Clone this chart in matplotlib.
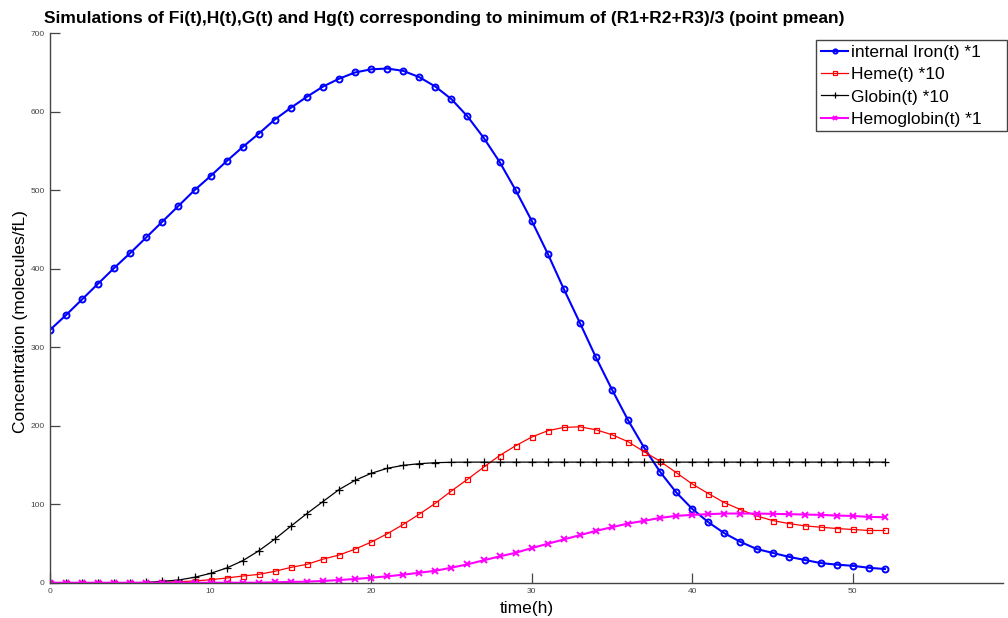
import matplotlib
matplotlib.use("Agg")
import matplotlib.pyplot as plt
from matplotlib.patches import Rectangle
import numpy as np

plt.rcParams['font.family'] = ['Liberation Sans', 'DejaVu Sans']

t = np.arange(0, 53)

iron = [322, 341, 361, 381, 401, 420, 440, 460, 480, 500,
        518, 537, 555, 572, 590, 605, 619, 632, 642, 650,
        654, 655, 652, 644, 632, 616, 594, 567, 536, 500,
        461, 419, 374, 331, 287, 246, 207, 172, 141, 115,
        94, 77, 63, 52, 43, 38, 33, 29, 25, 23,
        21.5, 19, 17.4]

heme = [0, 0, 0, 0, 0, 0, 0, 0.6, 1.2, 2.2,
        3.8, 6, 8.5, 10.6, 14.5, 19.5, 23.4, 30, 35.2, 42.8,
        51.7, 62.3, 74.2, 87.3, 101.2, 116.9, 131.7, 147, 162, 174.5,
        185.5, 193.6, 197.8, 198.6, 194.8, 188.5, 179.6, 166.9, 154.6, 140.2,
        125.7, 113.5, 102, 93.2, 85.1, 79.2, 75.4, 72.4, 70.7, 69,
        67.8, 66.5, 66.5]

globin = [0, 0, 0, 0, 0, 0, 0.3, 1.8, 3.4, 6.9,
          11.9, 18.7, 28, 40.6, 55.5, 72, 88.1, 103.4, 118.6, 130.4,
          139.3, 145.7, 149.5, 151.6, 152.9, 153.4, 153.6, 153.6, 153.6, 153.6,
          153.6, 153.6, 153.6, 153.6, 153.6, 153.6, 153.6, 153.6, 153.6, 153.6,
          153.6, 153.6, 153.6, 153.6, 153.6, 153.6, 153.6, 153.6, 153.6, 153.6,
          153.6, 153.6, 153.6]

hemoglobin = [0, 0, 0, 0, 0, 0, 0, 0, 0, 0,
              0, 0, 0, 0, 0.5, 1, 1.3, 2.2, 3.4, 4.7,
              6.4, 8.1, 10.2, 12.7, 15.2, 19.1, 23.4, 28.5, 33.5, 38.1,
              44.1, 49.6, 55.1, 60.6, 66, 70.7, 75.4, 78.8, 82.6, 85.1,
              86.4, 87.3, 88.1, 88.1, 88.1, 87.7, 87.3, 86.8, 86.4, 85.5,
              85.1, 83.8, 83.4]

labels = ["internal Iron(t) *1", "Heme(t) *10", "Globin(t) *10", "Hemoglobin(t) *1"]
title = "Simulations of Fi(t),H(t),G(t) and Hg(t) corresponding to minimum of (R1+R2+R3)/3 (point pmean)"

W, H = 1008, 618
fig = plt.figure(figsize=(W / 100, H / 100), dpi=100)
ax = fig.add_axes([50 / W, 1 - 582.7 / H, (1003 - 50) / W, (582.7 - 33.2) / H])

ax.plot(t, iron, color="#0000ff", lw=1.5, marker="o", ms=4.3, mew=1.4,
        mfc="none", label=labels[0])
ax.plot(t, heme, color="#ff0000", lw=0.9, marker="s", ms=3.6, mew=0.9,
        mfc="none", label=labels[1])
ax.plot(t, globin, color="black", lw=0.9, marker="+", ms=5.5, mew=0.9,
        label=labels[2])
ax.plot(t, hemoglobin, color="#ff00ff", lw=1.5, marker="x", ms=3.8, mew=1.4,
        label=labels[3])

ax.set_xlim(0, 59.35)
ax.set_ylim(0, 700)
ax.set_xticks([0, 10, 20, 30, 40, 50])
ax.set_yticks([0, 100, 200, 300, 400, 500, 600, 700])

for side in ["top", "right"]:
    ax.spines[side].set_visible(False)
for side in ["left", "bottom"]:
    ax.spines[side].set_color("#444444")
    ax.spines[side].set_linewidth(1.0)

ax.tick_params(direction="in", length=7, width=0.9, colors="#444444",
               labelsize=6, labelcolor="#444444", pad=4)

ax.set_xlabel("time(h)", fontsize=12.5, labelpad=4)
ax.set_ylabel("Concentration (molecules/fL)", fontsize=12.5)
ax.yaxis.set_label_coords((28 - 50) / 953, (582.7 - 322) / 549.5)
fig.text(444 / W, 1 - 19 / H, title, fontsize=12.5, fontweight="bold",
         ha="center", va="center")

# legend text without frame, box drawn separately (matlab-style wide box)
leg = ax.legend(loc="upper left", bbox_to_anchor=(816 / W, 1 - 40 / H),
                bbox_transform=fig.transFigure, fontsize=12.5, frameon=False,
                handlelength=1.55, handletextpad=0.15, borderpad=0.3,
                labelspacing=0.4, borderaxespad=0.0, markerscale=0.7)
leg.set_zorder(6)
box = Rectangle((816 / W, 1 - 131 / H), (1007 - 816) / W, 91 / H,
                transform=fig.transFigure, facecolor="white",
                edgecolor="#444444", lw=1.0, zorder=5, clip_on=False)
ax.add_patch(box)

fig.savefig("out.png", dpi=100)
